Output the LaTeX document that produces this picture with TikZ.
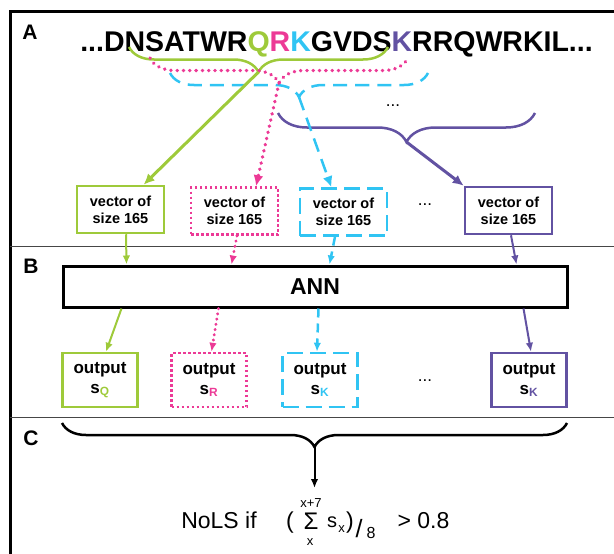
\documentclass[tikz,border=0pt]{standalone}
\usepackage{fontspec}
\setmainfont{Liberation Sans}
\usetikzlibrary{arrows.meta,decorations.pathreplacing,calc}

\definecolor{lsgreen}{RGB}{158,202,58}
\definecolor{lspink}{RGB}{236,58,150}
\definecolor{lsblue}{RGB}{48,196,243}
\definecolor{lspurple}{RGB}{98,82,162}
\definecolor{rulegray}{RGB}{70,70,70}

\begin{document}
\begin{tikzpicture}[x=1pt,y=-1pt,>={Latex[length=9pt,width=7.5pt]},
	panel/.style={font=\fontsize{21}{21}\selectfont\bfseries,inner sep=0pt},
	seq/.style={font=\fontsize{28.5}{30}\selectfont\bfseries,inner sep=0pt,anchor=base},
	gap/.style={font=\fontsize{17}{17}\selectfont,inner sep=0pt},
	box/.style={line width=2.5pt,minimum width=87pt,minimum height=47pt,align=center,inner sep=0pt,text=black,font=\fontsize{14.5}{17}\selectfont\bfseries},
	outbox/.style={line width=2.5pt,minimum width=75pt,minimum height=54pt,align=center,inner sep=0pt,text=black,font=\fontsize{17}{20}\selectfont\bfseries},
	formula/.style={font=\fontsize{23}{23}\selectfont,inner sep=0pt,anchor=base},
	curly/.style={decorate,decoration={brace,mirror,amplitude=#1}},
	qline/.style={lsgreen,line width=2.5pt},
	rline/.style={lspink,line width=3.5pt,line cap=round,dash pattern=on 0.3pt off 6pt},
	kline/.style={lsblue,line width=2.5pt,dash pattern=on 14pt off 8pt},
	ktwoline/.style={lspurple,line width=2.5pt},
	rbox/.style={draw=lspink,dash pattern=on 2.5pt off 2.5pt},
	kbox/.style={draw=lsblue,dash pattern=on 16pt off 7pt},
	big/.style={-{Latex[length=11pt,width=10pt]},line width=3pt}]

	\useasboundingbox (0,0) rectangle (614,554);
	\draw[line width=3pt] (10,554) -- (10,11) -- (614,11);
	\draw[rulegray,line width=0.8pt] (10,246) -- (614,246);
	\draw[rulegray,line width=0.8pt] (10,417) -- (614,417);

	\node[panel] (lblA) at (30,32) {A};
	\node[panel] (lblB) at (31,266) {B};
	\node[panel] (lblC) at (31,438) {C};

	\node[seq] (seq) at (336.5,52) {...DNSATWR\textcolor{lsgreen}{Q}\textcolor{lspink}{R}\textcolor{lsblue}{K}GVDS\textcolor{lspurple}{K}RRQWRKIL...};

	\draw[qline,curly=25pt] (129,47) -- (388,47);
	\draw[rline,curly=25pt] (150,58) -- (408,58);
	\draw[kline,curly=24pt] (170,73) -- (428,73);
	\draw[ktwoline,curly=29pt] (278,113) -- (535,113);
	\coordinate (tipQ) at (258.5,72);
	\coordinate (tipR) at (279,83);
	\coordinate (tipK) at (299,97);
	\coordinate (tipKtwo) at (406.5,142);
	\node[gap] (dotsseq) at (393,106) {...};

	\node[box,draw=lsgreen] (vecQ) at (120.5,209.5) {vector of\\size 165};
	\node[box,rbox] (vecR) at (234.5,211) {vector of\\size 165};
	\node[box,kbox] (vecK) at (343.5,212) {vector of\\size 165};
	\node[gap] (dotsvec) at (425,205) {...};
	\node[box,draw=lspurple] (vecKtwo) at (508.5,210.5) {vector of\\size 165};

	\path[big]
	(tipQ) edge[qline,line width=3pt] (vecQ.47)
	(tipR) edge[rline] (vecR.49)
	(tipK) edge[kline] (vecK.116)
	(tipKtwo) edge[ktwoline,line width=3pt] (vecKtwo.north west);

	\node[draw,line width=3pt,minimum width=504pt,minimum height=41pt,inner sep=0pt,font=\fontsize{23}{23}\selectfont\bfseries] (ann) at (315,286.5) {ANN};

	\path[->]
	([xshift=5.5pt]vecQ.south) edge[qline,line width=2pt] ($(ann.north west)+(65,0)$)
	([xshift=2.5pt]vecR.south) edge[rline,line width=3pt,dash pattern=on 0.3pt off 5pt] ($(ann.north west)+(170,0)$)
	([xshift=-8.5pt]vecK.south) edge[kline,dash pattern=on 9pt off 6pt] ($(ann.north west)+(268,0)$)
	([xshift=2.5pt]vecKtwo.south) edge[ktwoline,line width=2pt] ($(ann.north west)+(455,0)$);

	\node[outbox,draw=lsgreen] (outQ) at (100,380) {output\\s\textsubscript{\textcolor{lsgreen}{Q}}};
	\node[outbox,rbox] (outR) at (209,380) {output\\s\textsubscript{\textcolor{lspink}{R}}};
	\node[outbox,kbox] (outK) at (320,380) {output\\s\textsubscript{\textcolor{lsblue}{K}}};
	\node[gap] (dotsout) at (425,381) {...};
	\node[outbox,draw=lspurple] (outKtwo) at (529,380) {output\\s\textsubscript{\textcolor{lspurple}{K}}};

	\path[->]
	($(ann.south west)+(60,0)$) edge[qline,line width=2pt] ([xshift=6pt]outQ.north)
	($(ann.south west)+(157,0)$) edge[rline,line width=3pt,dash pattern=on 0.3pt off 5pt] ([xshift=2.5pt]outR.north)
	($(ann.south west)+(257,0)$) edge[kline,dash pattern=on 9pt off 6pt] ([xshift=-3pt]outK.north)
	($(ann.south west)+(462,0)$) edge[ktwoline,line width=2pt] ([xshift=2pt]outKtwo.north);

	\draw[line width=2.5pt,curly=24pt] (62,423) -- (567,423);
	\coordinate (tipC) at (314.5,447);
	\coordinate (sumtop) at (314.5,488);
	\draw[->,line width=2pt] (tipC) -- (sumtop);

	\node[formula] (nols) at (219,528) {NoLS if};
	\node[formula] (lpar) at (290,528) {(};
	\node[formula,font=\fontsize{24}{24}\selectfont] (sum) at (311,529) {Σ};
	\node[formula,font=\fontsize{13}{13}\selectfont] (upper) at (311,507) {x+7};
	\node[formula,font=\fontsize{13}{13}\selectfont] (lower) at (310,545) {x};
	\node[formula,font=\fontsize{20}{20}\selectfont] (s) at (332,527) {s};
	\node[formula,font=\fontsize{13}{13}\selectfont] (sub) at (341.5,532) {x};
	\node[formula] (rpar) at (350,528) {)};
	\node[formula,font=\fontsize{25}{25}\selectfont] (slash) at (359,537) {/};
	\node[formula,font=\fontsize{16}{16}\selectfont] (eight) at (371,538) {8};
	\node[formula] (thr) at (423.5,528) {> 0.8};
\end{tikzpicture}
\end{document}
